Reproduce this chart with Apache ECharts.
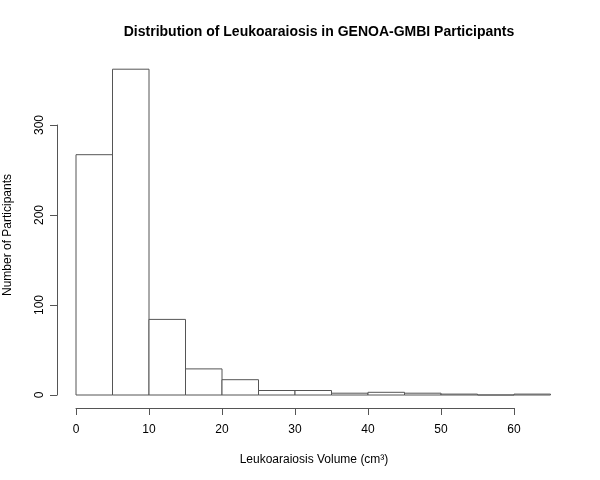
<!DOCTYPE html>
<html>
<head>
<meta charset="utf-8">
<script src="https://cdn.jsdelivr.net/npm/echarts@6/dist/echarts.min.js"></script>
<style>
  html, body { margin: 0; padding: 0; background: #fff; }
  #main { width: 600px; height: 480px; }
</style>
</head>
<body>
<div id="main"></div>
<script>
// histogram bins (cm3), width 5
var binStarts = [0, 5, 10, 15, 20, 25, 30, 35, 40, 45, 50, 55, 60];
var binWidth = 5;
var counts = [267, 362, 84, 29, 17, 5, 5, 2, 3, 2, 1, 0, 1];
var xTicks = [0, 10, 20, 30, 40, 50, 60];
var yTicks = [0, 100, 200, 300];

var font = 'Liberation Sans, Arial, sans-serif';
var lineColor = '#555';

var barData = binStarts.map(function (s, i) {
    return [s, s + binWidth, counts[i]];
});

var axisBase = {
    axisLine: { show: true, lineStyle: { color: lineColor, width: 1 } },
    axisTick: { show: true, length: 7, lineStyle: { color: lineColor } },
    splitLine: { show: false }
};

var chart = echarts.init(document.getElementById('main'));
chart.setOption({
    backgroundColor: '#fff',
    animation: false,
    title: {
        text: 'Distribution of Leukoaraiosis in GENOA-GMBI Participants',
        left: 314, top: 20, textAlign: 'center',
        textStyle: { fontFamily: font, fontSize: 14, fontWeight: 'bold', color: '#000' }
    },
    grid: [
        // plotting region for bars
        { left: 76, width: 474.5, top: 35, height: 360 },
        // x axis, pushed below the bars like R does
        { left: 76, width: 438, top: 138, height: 270 },
        // y axis, pushed left of the bars
        { left: 57, width: 438, top: 125, height: 270 }
    ],
    xAxis: [
        { gridIndex: 0, type: 'value', min: 0, max: 65, show: false },
        Object.assign({
            gridIndex: 1, type: 'value', min: 0, max: 60, interval: 10,
            axisLabel: { margin: 16, color: '#000', fontFamily: font, fontSize: 12,
                formatter: function (v) { return xTicks.indexOf(v) >= 0 ? v : ''; } }
        }, axisBase),
        { gridIndex: 2, type: 'value', min: 0, max: 60, show: false }
    ],
    yAxis: [
        { gridIndex: 0, type: 'value', min: 0, max: 400, show: false },
        { gridIndex: 1, type: 'value', min: 0, max: 300, show: false },
        Object.assign({
            gridIndex: 2, type: 'value', min: 0, max: 300, interval: 100,
            axisLabel: { margin: 11, rotate: 90, color: '#000', fontFamily: font, fontSize: 12,
                formatter: function (v) { return yTicks.indexOf(v) >= 0 ? v : ''; } }
        }, axisBase)
    ],
    graphic: [
        {
            type: 'text', x: 314, y: 460,
            style: { text: 'Leukoaraiosis Volume (cm³)', fontFamily: font, fontSize: 12,
                fill: '#000', align: 'center', verticalAlign: 'middle' }
        },
        {
            type: 'text', x: 8, y: 235, rotation: Math.PI / 2,
            style: { text: 'Number of Participants', fontFamily: font, fontSize: 12,
                fill: '#000', align: 'center', verticalAlign: 'middle' }
        }
    ],
    series: [{
        type: 'custom',
        xAxisIndex: 0, yAxisIndex: 0,
        data: barData,
        renderItem: function (params, api) {
            var p0 = api.coord([api.value(0), 0]);
            var p1 = api.coord([api.value(1), api.value(2)]);
            return {
                type: 'rect',
                shape: { x: p0[0], y: p1[1], width: p1[0] - p0[0], height: p0[1] - p1[1] },
                style: { fill: '#fff', stroke: lineColor, lineWidth: 1 }
            };
        }
    }]
});
</script>
</body>
</html>
